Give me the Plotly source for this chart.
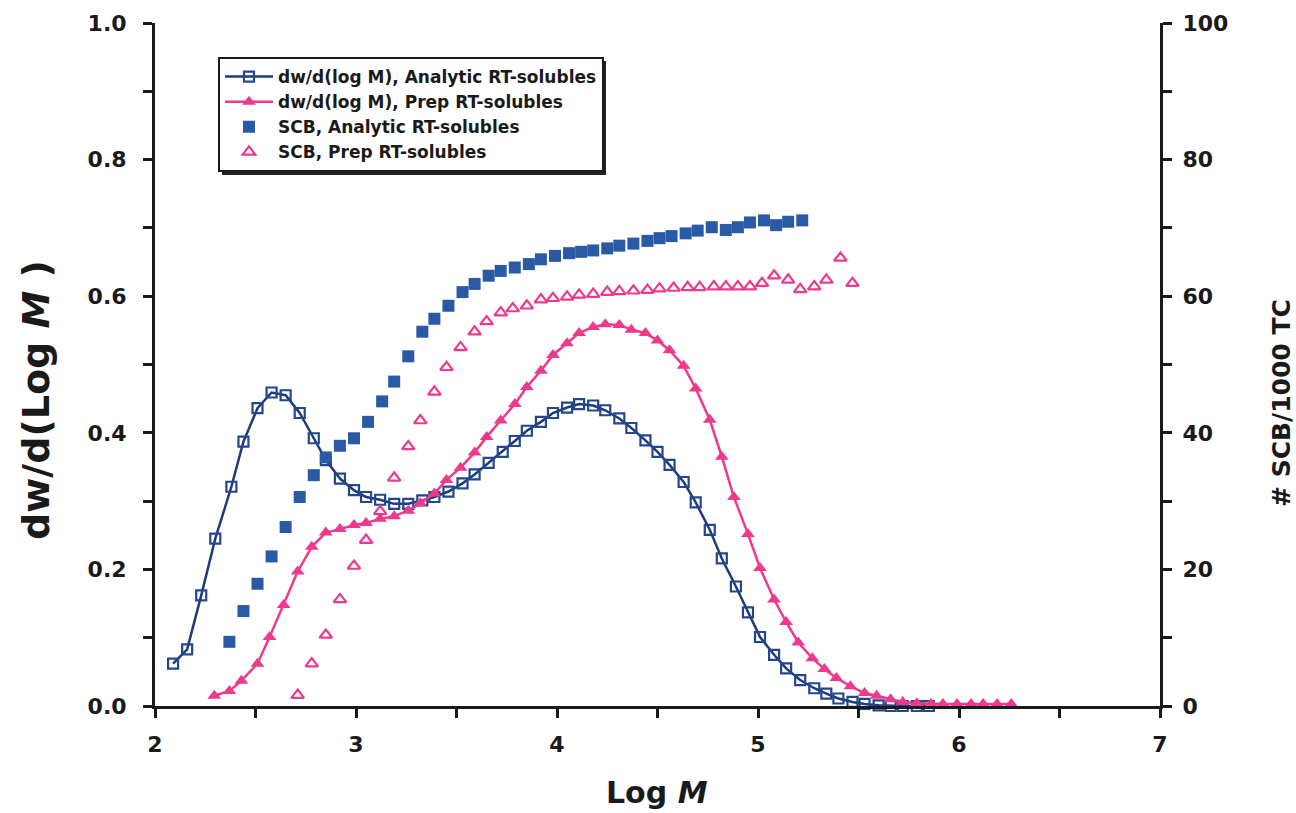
import plotly.graph_objects as go

# dw/d(log M), Analytic RT-solubles
an_x = [2.09, 2.16, 2.23, 2.30, 2.38, 2.44, 2.51, 2.58, 2.65, 2.72, 2.79, 2.85, 2.92, 2.99, 3.05, 3.12,
        3.19, 3.26, 3.33, 3.39, 3.46, 3.53, 3.59, 3.66, 3.73, 3.79, 3.85, 3.92, 3.98, 4.05, 4.11, 4.18,
        4.24, 4.31, 4.37, 4.44, 4.50, 4.56, 4.63, 4.69, 4.76, 4.82, 4.89, 4.95, 5.01, 5.08, 5.14, 5.21,
        5.28, 5.34, 5.40, 5.47, 5.53, 5.60, 5.66, 5.72, 5.79, 5.85]
an_y = [0.062, 0.083, 0.162, 0.245, 0.321, 0.387, 0.436, 0.459, 0.455, 0.429, 0.392, 0.360, 0.333, 0.316,
        0.306, 0.302, 0.296, 0.296, 0.301, 0.306, 0.314, 0.326, 0.339, 0.356, 0.372, 0.388, 0.403, 0.416,
        0.429, 0.437, 0.442, 0.440, 0.433, 0.421, 0.407, 0.389, 0.372, 0.353, 0.328, 0.298, 0.258, 0.216,
        0.175, 0.137, 0.101, 0.075, 0.055, 0.038, 0.026, 0.018, 0.011, 0.006, 0.003, 0.001, 0.0, 0.0,
        0.0, 0.0]

# dw/d(log M), Prep RT-solubles
pr_x = [2.295, 2.37, 2.43, 2.51, 2.57, 2.64, 2.71, 2.78, 2.85, 2.92, 2.99, 3.05, 3.12, 3.19, 3.26, 3.32,
        3.39, 3.45, 3.52, 3.59, 3.65, 3.72, 3.79, 3.85, 3.92, 3.98, 4.05, 4.11, 4.18, 4.24, 4.31, 4.37,
        4.44, 4.50, 4.56, 4.63, 4.69, 4.76, 4.82, 4.88, 4.95, 5.01, 5.08, 5.14, 5.20, 5.27, 5.33, 5.39,
        5.46, 5.53, 5.59, 5.66, 5.72, 5.79, 5.86, 5.92, 5.99, 6.06, 6.12, 6.19, 6.26]
pr_y = [0.015, 0.022, 0.037, 0.062, 0.101, 0.148, 0.197, 0.233, 0.254, 0.259, 0.265, 0.268, 0.274, 0.278,
        0.286, 0.297, 0.311, 0.331, 0.349, 0.371, 0.394, 0.418, 0.442, 0.467, 0.491, 0.514, 0.531, 0.546,
        0.555, 0.559, 0.558, 0.551, 0.546, 0.535, 0.521, 0.498, 0.465, 0.419, 0.365, 0.306, 0.252, 0.202,
        0.156, 0.123, 0.093, 0.070, 0.054, 0.041, 0.029, 0.019, 0.015, 0.010, 0.006, 0.004, 0.003, 0.003,
        0.003, 0.003, 0.003, 0.003, 0.003]

# SCB, Analytic RT-solubles (right axis)
scb_an_x = [2.37, 2.44, 2.51, 2.58, 2.65, 2.72, 2.79, 2.85, 2.92, 2.99, 3.06, 3.13, 3.19, 3.26, 3.33,
            3.39, 3.46, 3.53, 3.59, 3.66, 3.72, 3.79, 3.86, 3.92, 3.99, 4.06, 4.12, 4.18, 4.25, 4.31,
            4.38, 4.45, 4.51, 4.57, 4.64, 4.70, 4.77, 4.84, 4.90, 4.96, 5.03, 5.09, 5.15, 5.22]
scb_an_y = [9.4, 13.9, 17.9, 21.9, 26.2, 30.6, 33.8, 36.4, 38.1, 39.2, 41.6, 44.6, 47.5, 51.2, 54.8,
            56.7, 58.6, 60.6, 61.8, 63.0, 63.7, 64.2, 64.7, 65.4, 65.9, 66.3, 66.5, 66.7, 67.0, 67.4,
            67.7, 68.1, 68.5, 68.8, 69.2, 69.6, 70.1, 69.7, 70.1, 70.8, 71.1, 70.4, 70.9, 71.1]

# SCB, Prep RT-solubles (right axis)
scb_pr_x = [2.71, 2.78, 2.85, 2.92, 2.99, 3.05, 3.12, 3.19, 3.26, 3.32, 3.39, 3.45, 3.52, 3.59, 3.65,
            3.72, 3.78, 3.85, 3.92, 3.98, 4.05, 4.11, 4.18, 4.25, 4.31, 4.38, 4.45, 4.51, 4.58, 4.65,
            4.71, 4.78, 4.84, 4.90, 4.96, 5.02, 5.08, 5.15, 5.21, 5.28, 5.34, 5.41, 5.47]
scb_pr_y = [1.6, 6.2, 10.4, 15.6, 20.5, 24.3, 28.5, 33.4, 38.0, 41.8, 46.0, 49.6, 52.5, 54.8, 56.3,
            57.6, 58.2, 58.6, 59.5, 59.7, 59.9, 60.2, 60.3, 60.6, 60.7, 60.8, 60.9, 61.1, 61.2, 61.3,
            61.3, 61.4, 61.4, 61.4, 61.4, 61.9, 63.0, 62.4, 61.0, 61.4, 62.4, 65.6, 61.9]

x_ticks = [2, 3, 4, 5, 6, 7]
y_ticks = [0.0, 0.2, 0.4, 0.6, 0.8, 1.0]
y_tick_text = ["0.0", "0.2", "0.4", "0.6", "0.8", "1.0"]
y2_ticks = [0, 20, 40, 60, 80, 100]

BLUE = "#2a5aa6"
NAVY = "#1f3b7a"
PINK = "#ee3a8c"
INK = "#1a1a1a"
FONT = "DejaVu Sans"

fig = go.Figure()
fig.add_trace(go.Scatter(
    x=an_x, y=an_y, mode="lines+markers", name="dw/d(log M), Analytic RT-solubles",
    line=dict(color=NAVY, width=2.5),
    marker=dict(symbol="square-open", size=10, color="#22478c", line=dict(width=2.2)),
    cliponaxis=False))
fig.add_trace(go.Scatter(
    x=pr_x, y=pr_y, mode="lines+markers", name="dw/d(log M), Prep RT-solubles",
    line=dict(color=PINK, width=2.5),
    marker=dict(symbol="triangle-up", size=12, color=PINK),
    cliponaxis=False))
fig.add_trace(go.Scatter(
    x=scb_an_x, y=scb_an_y, mode="markers", name="SCB, Analytic RT-solubles", yaxis="y2",
    marker=dict(symbol="square", size=12, color=BLUE),
    cliponaxis=False))
fig.add_trace(go.Scatter(
    x=scb_pr_x, y=scb_pr_y, mode="markers", name="SCB, Prep RT-solubles", yaxis="y2",
    marker=dict(symbol="triangle-up-open", size=11, color=PINK, line=dict(width=2.2)),
    cliponaxis=False))

L, R, T, B = 155, 136, 23, 107
W, H = 1296, 813
pw, ph = W - L - R, H - T - B


def px_x(p):
    return (p - L) / pw


def px_y(p):
    return (H - B - p) / ph


tickfont = dict(family=FONT, size=22, color=INK, weight="bold")

fig.update_layout(
    width=W, height=H,
    margin=dict(l=L, r=R, t=T, b=B, autoexpand=False),
    paper_bgcolor="white", plot_bgcolor="white",
    font=dict(family=FONT, color=INK, weight="bold"),
    showlegend=True,
    legend=dict(
        x=px_x(218), y=px_y(57), xanchor="left", yanchor="top",
        bgcolor="white", bordercolor=INK, borderwidth=2,
        font=dict(family=FONT, size=17, color=INK, weight="bold"),
        tracegroupgap=0, itemwidth=48),
    xaxis=dict(
        range=[2, 7], tickvals=x_ticks, ticktext=[str(v) for v in x_ticks],
        showgrid=False, zeroline=False, showline=True, linecolor=INK, linewidth=3,
        ticks="outside", ticklen=9, tickwidth=2.5, tickcolor=INK,
        minor=dict(dtick=0.5, ticks="outside", ticklen=9, tickwidth=2.5, tickcolor=INK),
        tickfont=tickfont, ticklabelstandoff=8),
    yaxis=dict(
        range=[0, 1], tickvals=y_ticks, ticktext=y_tick_text,
        showgrid=False, zeroline=False, showline=True, linecolor=INK, linewidth=3,
        ticks="outside", ticklen=9, tickwidth=2.5, tickcolor=INK,
        minor=dict(dtick=0.1, ticks="outside", ticklen=9, tickwidth=2.5, tickcolor=INK),
        tickfont=tickfont, ticklabelstandoff=12),
    yaxis2=dict(
        range=[0, 100], tickvals=y2_ticks, overlaying="y", side="right",
        showgrid=False, zeroline=False, showline=True, linecolor=INK, linewidth=3,
        ticks="outside", ticklen=9, tickwidth=2.5, tickcolor=INK,
        minor=dict(dtick=10, ticks="outside", ticklen=9, tickwidth=2.5, tickcolor=INK),
        tickfont=tickfont, ticklabelstandoff=6),
    annotations=[
        dict(text="Log <i>M</i>", x=px_x(657), y=px_y(792), xref="paper", yref="paper",
             xanchor="center", yanchor="middle", showarrow=False,
             font=dict(family=FONT, size=30, color=INK, weight="bold")),
        dict(text="dw/d(Log <i>M</i> )", x=px_x(36), y=px_y(400), xref="paper", yref="paper",
             xanchor="center", yanchor="middle", textangle=-90, showarrow=False,
             font=dict(family=FONT, size=38, color=INK, weight="bold")),
        dict(text="# SCB/1000 TC", x=px_x(1281), y=px_y(403), xref="paper", yref="paper",
             xanchor="center", yanchor="middle", textangle=-90, showarrow=False,
             font=dict(family=FONT, size=25, color=INK, weight="bold")),
    ],
    shapes=[
        dict(type="rect", xref="paper", yref="paper", layer="above",
             x0=px_x(222), x1=px_x(606), y0=px_y(175), y1=px_y(61),
             fillcolor="#222222", line=dict(width=0)),
    ],
)

fig.write_html("out.html")
